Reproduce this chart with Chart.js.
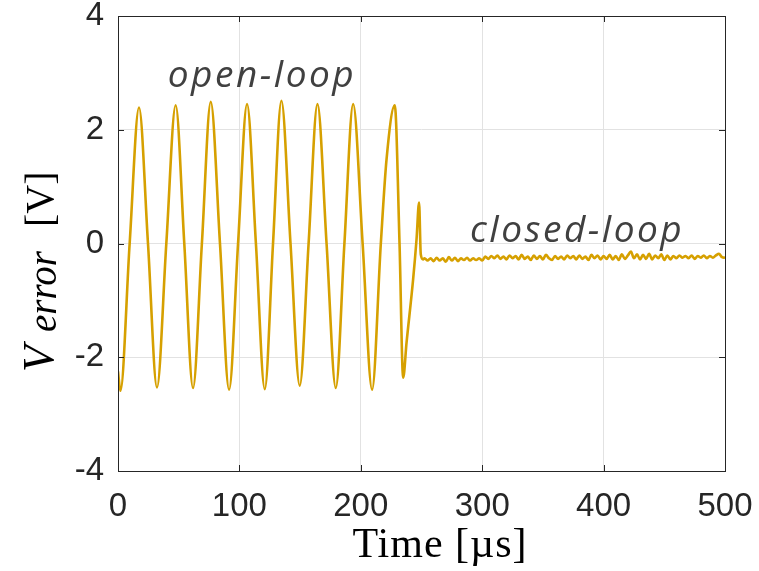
<!DOCTYPE html>
<html>
<head>
<meta charset="utf-8">
<script src="https://cdn.jsdelivr.net/npm/chart.js@4/dist/chart.umd.min.js"></script>
<style>
  html, body { margin: 0; padding: 0; background: #fff; }
</style>
</head>
<body>
<canvas id="myChart" width="759" height="571"></canvas>
<script>
// time samples [us] and error voltage [V]
var timeUs = [
  0, 2.0, 9.6, 17.3, 24.7, 32.1, 39.8, 47.5, 54.6, 61.8, 69.1, 76.4, 84.0, 91.5,
  98.9, 106.3, 113.6, 120.9, 127.7, 134.6, 142.1, 149.7, 157.0, 164.3, 171.8, 179.4,
  186.5, 193.7, 201.5, 209.3, 216.5, 221.2, 228.0, 231.9, 234.9, 237.7, 243.1, 245.9,
  248.0, 249.4, 251.3,
  252.5, 255, 257.5, 260, 262.5, 265, 267.5, 270, 272.5, 275, 277.5, 280, 282.5, 285,
  287.5, 290, 292.5, 295, 297.5, 300, 302.5, 305, 307.5, 310, 312.5, 315, 317.5, 320,
  322.5, 325, 327.5, 330, 332.5, 335, 337.5, 340, 342.5, 345, 347.5, 350, 352.5, 355,
  357.5, 360, 362.5, 365, 367.5, 370, 372.5, 375, 377.5, 380, 382.5, 385, 387.5, 390,
  392.5, 395, 397.5, 400, 402.5, 405, 407.5, 410, 412.5, 415, 417.5, 420, 422.5, 425,
  427.5, 430, 432.5, 435, 437.5, 440, 442.5, 445, 447.5, 450, 452.5, 455, 457.5, 460,
  462.5, 465, 467.5, 470, 472.5, 475, 477.5, 480, 482.5, 485, 487.5, 490, 492.5, 495,
  497.5, 500
];
var vError = [
  -2.25, -2.59, 0, 2.39, 0, -2.53, 0, 2.43, 0, -2.54, 0, 2.49, 0, -2.57,
  0, 2.45, 0, -2.56, 0, 2.51, 0, -2.50, 0, 2.45, 0, -2.54,
  0, 2.45, 0, -2.57, 0, 1.48, 2.43, 0, -2.36, -1.74, -0.63, 0.07,
  0.72, -0.19, -0.28,
  -0.26, -0.30, -0.26, -0.31, -0.25, -0.30, -0.26, -0.32, -0.24, -0.30, -0.25, -0.31, -0.26, -0.29,
  -0.25, -0.30, -0.26, -0.29, -0.26, -0.30, -0.23, -0.27, -0.22, -0.26, -0.21, -0.27, -0.23, -0.28,
  -0.21, -0.26, -0.22, -0.28, -0.20, -0.27, -0.23, -0.29, -0.21, -0.27, -0.22, -0.28, -0.20, -0.26,
  -0.29, -0.22, -0.27, -0.23, -0.28, -0.21, -0.26, -0.22, -0.28, -0.21, -0.27, -0.23, -0.29, -0.20,
  -0.26, -0.21, -0.28, -0.22, -0.27, -0.20, -0.28, -0.22, -0.29, -0.19, -0.27, -0.21, -0.14, -0.26,
  -0.19, -0.28, -0.20, -0.27, -0.18, -0.28, -0.21, -0.26, -0.19, -0.29, -0.21, -0.28, -0.22, -0.26,
  -0.21, -0.25, -0.22, -0.26, -0.21, -0.27, -0.22, -0.25, -0.21, -0.26, -0.22, -0.25, -0.21, -0.18,
  -0.24, -0.25
];
var xTicks = [0, 100, 200, 300, 400, 500];
var yTicks = [-4, -2, 0, 2, 4];

var ink = '#262626';
var tickFont = { family: 'Liberation Sans, Arial, sans-serif', size: 33 };

// box, inward ticks, axis titles and the two notes
var decor = {
  id: 'decor',
  afterDraw(chart) {
    var ctx = chart.ctx, a = chart.chartArea;
    var xs = chart.scales.x, ys = chart.scales.y;
    ctx.save();
    ctx.strokeStyle = ink;
    ctx.lineWidth = 1;
    ctx.strokeRect(Math.round(a.left) + 0.5, Math.round(a.top) + 0.5,
      Math.round(a.right - a.left), Math.round(a.bottom - a.top));
    ctx.beginPath();
    xTicks.forEach(function (v) {
      var px = Math.round(xs.getPixelForValue(v)) + 0.5;
      ctx.moveTo(px, a.bottom); ctx.lineTo(px, a.bottom - 6);
      ctx.moveTo(px, a.top); ctx.lineTo(px, a.top + 6);
    });
    yTicks.forEach(function (v) {
      var py = Math.round(ys.getPixelForValue(v)) + 0.5;
      ctx.moveTo(a.left, py); ctx.lineTo(a.left + 6, py);
      ctx.moveTo(a.right, py); ctx.lineTo(a.right - 6, py);
    });
    ctx.stroke();

    // x title
    ctx.fillStyle = '#000';
    ctx.font = '42px "Liberation Serif", "Times New Roman", serif';
    ctx.textAlign = 'center';
    ctx.textBaseline = 'alphabetic';
    ctx.letterSpacing = '1px';
    ctx.fillText('Time [µs]', 440, 557);

    // y title, V_error [V]
    ctx.letterSpacing = '0px';
    ctx.save();
    ctx.translate(53, 372);
    ctx.rotate(-Math.PI / 2);
    ctx.textAlign = 'left';
    ctx.font = 'italic 44px "Liberation Serif", serif';
    ctx.fillText('V', 0, 0);
    ctx.font = 'italic 39px "Liberation Serif", serif';
    ctx.fillText('error', 40, 3);
    ctx.font = '40px "Liberation Serif", serif';
    ctx.fillText('[V]', 145, 0);
    ctx.restore();

    // notes
    ctx.fillStyle = '#404040';
    ctx.font = 'italic 37px "Open Sans", sans-serif';
    ctx.textAlign = 'left';
    ctx.letterSpacing = '2.5px';
    ctx.fillText('open-loop', xs.getPixelForValue(41), ys.getPixelForValue(2.75));
    ctx.fillText('closed-loop', xs.getPixelForValue(290), ys.getPixelForValue(0.02));
    ctx.restore();
  }
};

var ctx = document.getElementById('myChart');
var myChart = new Chart(ctx, {
  type: 'line',
  data: {
    datasets: [{
      data: timeUs.map(function (t, i) { return { x: t, y: vError[i] }; }),
      borderColor: '#d6a000',
      borderWidth: 2.6,
      pointRadius: 0,
      fill: false,
      cubicInterpolationMode: 'monotone'
    }]
  },
  options: {
    responsive: false,
    animation: false,
    devicePixelRatio: 1,
    layout: { padding: { top: 16, right: 34, left: 0, bottom: 0 } },
    plugins: { legend: { display: false }, tooltip: { enabled: false } },
    scales: {
      x: {
        type: 'linear', min: 0, max: 500,
        afterBuildTicks: function (s) { s.ticks = xTicks.map(function (v) { return { value: v }; }); },
        afterFit: function (s) { s.height = 100; s.paddingLeft = 0; s.paddingRight = 0; },
        grid: { color: '#e2e2e2', drawTicks: false },
        border: { display: false },
        ticks: { font: tickFont, color: ink, padding: 16, maxRotation: 0 }
      },
      y: {
        min: -4, max: 4,
        afterBuildTicks: function (s) { s.ticks = yTicks.map(function (v) { return { value: v }; }); },
        afterFit: function (s) { s.width = 118; s.paddingTop = 0; s.paddingBottom = 0; },
        grid: { color: '#e2e2e2', drawTicks: false },
        border: { display: false },
        ticks: { font: tickFont, color: ink, padding: 14 }
      }
    }
  },
  plugins: [decor]
});
</script>
</body>
</html>
